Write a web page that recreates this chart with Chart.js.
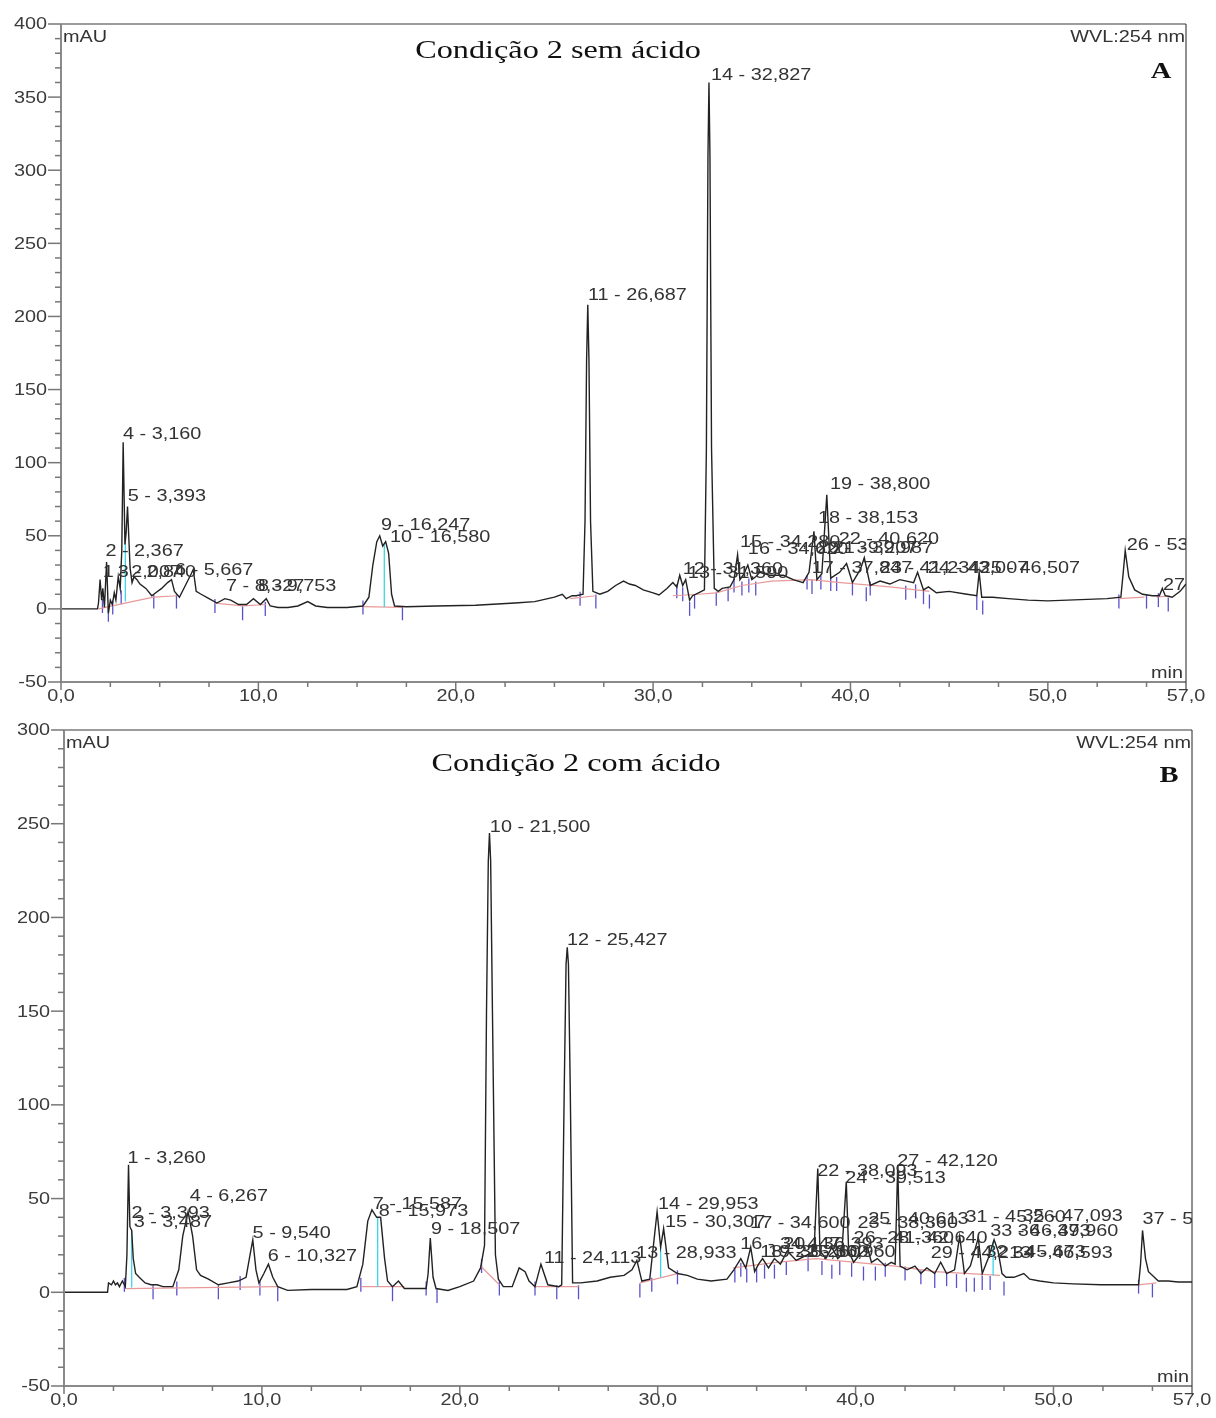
<!DOCTYPE html>
<html>
<head>
<meta charset="utf-8">
<title>Condição 2 - cromatogramas</title>
<script src="https://cdn.jsdelivr.net/npm/chart.js@4.4.1/dist/chart.umd.min.js"></script>
<style>
  html, body { margin: 0; padding: 0; background: #fff; }
  body { width: 1216px; height: 1418px; position: relative; overflow: hidden; }
  canvas { position: absolute; left: 0; }
  #chartA { top: 0; }
  #chartB { top: 712px; }
</style>
</head>
<body>
<canvas id="chartA" width="1216" height="712"></canvas>
<canvas id="chartB" width="1216" height="706"></canvas>
<script>
/* ---------- shared axis data ---------- */
const xTicks = [0, 10, 20, 30, 40, 50, 57];
const xTickLabels = ["0,0", "10,0", "20,0", "30,0", "40,0", "50,0", "57,0"];
const yTicksA = [-50, 0, 50, 100, 150, 200, 250, 300, 350, 400];
const yTicksB = [-50, 0, 50, 100, 150, 200, 250, 300];

/* ---------- A: Condição 2 sem ácido ---------- */
const timeA = [0, 1.85, 1.9, 1.98, 2.06, 2.12, 2.2, 2.31, 2.4, 2.5,
  2.6, 2.7, 2.78, 2.9, 3.0, 3.08, 3.15, 3.24, 3.3, 3.37,
  3.5, 3.6, 3.7, 3.85, 4.0, 4.3, 4.6, 4.8, 5.1, 5.4,
  5.6, 5.75, 6.0, 6.3, 6.6, 6.7, 6.85, 7.1, 7.5, 7.9,
  8.3, 8.6, 9.0, 9.4, 9.75, 10.1, 10.4, 10.6, 11.0, 11.5,
  12.0, 12.5, 12.9, 13.5, 14.5, 15.3, 15.6, 15.8, 16.0, 16.15,
  16.3, 16.45, 16.6, 16.75, 16.9, 17.5, 19, 21, 23, 24,
  25, 25.4, 25.6, 25.9, 26.1, 26.45, 26.55, 26.63, 26.69, 26.75,
  26.83, 26.95, 27.3, 27.7, 28.1, 28.5, 28.8, 29.1, 29.5, 30.0,
  30.3, 30.7, 31.0, 31.2, 31.35, 31.5, 31.65, 31.85, 32.0, 32.3,
  32.6, 32.7, 32.78, 32.83, 32.88, 32.96, 33.1, 33.3, 33.5, 33.9,
  34.1, 34.28, 34.4, 34.6, 34.8, 35.0, 35.2, 35.4, 35.9, 36.6,
  37.1, 37.6, 37.9, 38.15, 38.3, 38.55, 38.8, 39.0, 39.45, 39.8,
  40.1, 40.5, 40.7, 41.0, 41.5, 42.0, 42.5, 43.2, 43.4, 43.7,
  43.95, 44.35, 45.0, 45.9, 46.4, 46.52, 46.65, 47.2, 48, 49,
  50, 51, 52, 53, 53.7, 53.82, 53.92, 54.1, 54.4, 54.8,
  55.3, 55.65, 55.8, 55.95, 56.3, 56.7, 57];
const signalA = [0, 0, 4, 20, 6, 14, 1, 32, -3, 6,
  3, 11, 6, 22, 14, 40, 114, 44, 52, 70,
  28, 18, 22, 20, 17, 14, 9, 11, 14, 18,
  20, 12, 8, 16, 24, 27, 12, 10, 7, 4,
  7, 6, 3, 3, 7, 3, 7, 2, 1, 1,
  2, 5, 2, 1, 1, 2, 8, 30, 46, 50,
  43, 46, 38, 10, 2, 1.5, 2, 2.5, 4, 5,
  8, 10, 7, 9, 9, 10, 60, 170, 208, 170,
  60, 12, 10, 12, 16, 19, 17, 16, 13, 11,
  9.5, 14, 18, 15, 23, 16, 20, 6, 9, 11,
  13, 110, 310, 360, 310, 110, 14, 12, 14, 15,
  20, 37, 20, 24, 30, 20, 22, 25, 23, 23,
  20, 18, 25, 53, 20, 24, 78, 21, 25, 31,
  18, 27, 35, 16, 19, 17, 20, 18, 25, 13,
  15, 11, 12, 10, 9, 25, 8, 8, 7, 6,
  5.5, 6, 6.5, 7, 8, 25, 40, 22, 13, 10,
  9, 9, 14, 9, 8, 12, 17];
const baseTimeA = [1.9, 3.6, 4.7, 5.9, 6.0, 7.8, 9.2, 10.4, 10.5, 15.3,
  17.3, 17.4, 25.8, 27.1, 27.2, 31.0, 32.3, 33.2, 34.5, 36.0,
  38.0, 39.5, 42.0, 44.0, 44.1, 53.6, 54.9, 55.0, 55.5, 56.2];
const baseValA = [0, 5, 8, 9, null, 4, 2, 3, null, 1.5,
  1, null, 7, 9, null, 9, 10, 11, 16, 19,
  20, 18, 15, 12, null, 7, 8, null, 8, 9];
const markTimeA = [2.1, 2.4, 2.62, 3.05, 4.7, 5.85, 7.8, 9.2, 10.35, 15.3, 17.3, 26.3, 27.1, 31.2, 31.5, 31.85, 32.1, 33.2, 33.8, 34.1,
  34.5, 34.85, 35.2, 37.8, 38.05, 38.5, 39.0, 39.3, 40.1, 40.8, 41.0, 42.8, 43.3, 43.7, 44.0, 46.4, 46.7, 53.6, 55.0, 55.6, 56.1];
const markValA = [2, -4, 1, 8, 5, 5, 2, -3, 0, 1, -3, 7, 5, 12, 10, 0, 5, 7, 10, 16,
  14, 16, 14, 18, 15, 18, 17, 17, 14, 10, 14, 11, 12, 8, 5, 4, 1, 5, 5, 6, 3];
const dropTimeA = [3.26, 16.38];
const dropLowA = [5, 1.3];
const dropHighA = [45, 44];
const peakTextA = ["4 - 3,160", "5 - 3,393", "2 - 2,367", "1 - 2,007", "3 - 2,840", "6 - 5,667", "7 - 8,327", "8 - 9,753",
  "9 - 16,247", "10 - 16,580", "11 - 26,687", "12 - 31,360", "13 - 31,590", "14 - 32,827", "15 - 34,280", "16 - 34,620",
  "17 - 37,847", "18 - 38,153", "19 - 38,800", "20 - 39,207", "21 - 39,987", "22 - 40,620", "23 - 41,234", "24 - 43,007",
  "25 - 46,507", "26 - 53,933", "27 - 55,813"];
const peakTimeA = [3.14, 3.38, 2.25, 2.11, 2.88, 5.78, 8.36, 9.98,
  16.21, 16.67, 26.7, 31.5, 31.76, 32.93, 34.4, 34.8,
  38.04, 38.35, 38.96, 38.3, 39.1, 39.4, 41.49, 43.92,
  46.55, 54.0, 55.83];
const peakValA = [116, 74, 36, 22, 22, 23, 12, 12,
  54, 46, 211, 24, 21, 362, 42, 37.5,
  24.5, 59, 82, 38.5, 38, 44.5, 24.5, 24.5,
  24.5, 40, 13];

/* ---------- B: Condição 2 com ácido ---------- */
const timeB = [0, 2.2, 2.25, 2.4, 2.5, 2.6, 2.7, 2.8, 2.95, 3.1,
  3.18, 3.26, 3.33, 3.42, 3.5, 3.62, 3.8, 4.1, 4.4, 4.7,
  5.0, 5.5, 5.8, 6.0, 6.27, 6.5, 6.7, 6.9, 7.3, 7.8,
  8.3, 8.8, 9.2, 9.4, 9.54, 9.7, 9.85, 10.1, 10.33, 10.55,
  10.8, 11.3, 12.5, 13.5, 14.3, 14.8, 15.1, 15.35, 15.56, 15.8,
  16.0, 16.2, 16.35, 16.6, 16.9, 17.2, 17.8, 18.3, 18.4, 18.51,
  18.65, 18.8, 19.4, 20.0, 20.7, 21.05, 21.25, 21.35, 21.44, 21.5,
  21.56, 21.65, 21.8, 21.95, 22.2, 22.65, 23.0, 23.3, 23.5, 23.8,
  24.1, 24.45, 25.0, 25.15, 25.28, 25.37, 25.43, 25.49, 25.58, 25.7,
  26.1, 26.94, 27.6, 28.3, 28.7, 28.95, 29.2, 29.6, 29.97, 30.15,
  30.3, 30.55, 31.0, 31.5, 32.0, 32.7, 33.5, 33.85, 34.2, 34.45,
  34.7, 34.9, 35.1, 35.3, 35.6, 35.9, 36.2, 36.55, 37.0, 37.56,
  37.9, 38.09, 38.2, 38.5, 38.8, 39.1, 39.3, 39.53, 39.65, 39.9,
  40.2, 40.6, 40.8, 41.1, 41.5, 41.8, 42.0, 42.13, 42.25, 42.6,
  43.0, 43.3, 43.6, 44.0, 44.3, 44.6, 45.0, 45.26, 45.5, 45.8,
  46.2, 46.4, 46.7, 47.0, 47.2, 47.4, 47.6, 48.0, 48.5, 48.8,
  49.3, 50.0, 51.0, 52.4, 53.5, 54.3, 54.4, 54.5, 54.65, 54.8,
  55.3, 55.8, 56.3, 57];
const signalB = [0, 0, 5, 4, 6, 4, 5, 3, 6, 3,
  20, 68, 35, 33, 18, 10, 8, 5, 4, 4,
  3, 3, 12, 30, 43, 30, 12, 9, 7, 4,
  5, 6, 8, 20, 28, 12, 5, 10, 15, 8,
  3, 1, 1.5, 1.5, 1.5, 3, 15, 38, 44, 40,
  40, 18, 6, 3, 6, 2, 2, 2, 10, 29,
  8, 2, 1, 3, 6, 13, 25, 150, 230, 245,
  230, 150, 20, 7, 3, 3, 13, 11, 6, 3,
  15, 4, 3, 4, 110, 175, 184, 175, 110, 5,
  5, 6, 8, 9, 12, 17, 6, 7, 43, 24,
  34, 13, 10, 9, 7, 6, 7, 12, 18, 13,
  24, 11, 15, 18, 13, 18, 15, 22, 17, 20,
  22, 66, 22, 18, 24, 18, 20, 59, 22, 16,
  20, 24, 16, 18, 14, 16, 15, 68, 14, 12,
  14, 10, 13, 10, 16, 10, 12, 30, 10, 14,
  29, 10, 18, 28, 22, 10, 8, 8, 10, 7,
  6, 5, 4.5, 4, 4, 4, 15, 33, 18, 11,
  6, 6, 5.5, 5.5];
const baseTimeB = [3.1, 10.8, 10.9, 15.0, 17.2, 17.3, 21.05, 22.0, 22.1, 23.8,
  26.0, 26.1, 29.1, 31.0, 31.1, 33.8, 36.0, 38.0, 40.0, 42.0,
  44.0, 47.3, 47.4, 54.3, 55.2];
const baseValB = [2, 3, null, 3, 3, null, 14, 4, null, 3,
  3, null, 5, 10, null, 13, 16, 18, 16, 14,
  11, 9, null, 4, 5];
const markTimeB = [3.05, 4.5, 5.7, 7.8, 8.9, 9.9, 10.8, 15.0, 16.6, 18.3, 18.85, 21.1, 22.0, 23.8, 24.9, 26.0, 29.1, 29.7, 31.0, 33.9,
  34.2, 34.5, 35.0, 35.4, 35.9, 36.5, 37.6, 38.3, 38.8, 39.2, 39.8, 40.4, 41.0, 41.5, 42.5, 43.3, 44.0, 44.6, 45.1, 45.6,
  46.0, 46.4, 46.8, 47.5, 54.3, 55.0];
const markValB = [4, 0, 2, 0, 5, 2, -1, 4, -1, 2, -2, 14, 2, 2, 0, 0, 1, 4, 8, 9,
  12, 9, 9, 11, 11, 13, 15, 13, 11, 13, 12, 10, 10, 12, 10, 8, 6, 7, 6, 4,
  4, 5, 5, 2, 3, 1];
const dropTimeB = [3.42, 15.85, 30.15, 46.95];
const dropLowB = [2.5, 3, 8, 9];
const dropHighB = [33, 40, 24, 27];
const peakTextB = ["1 - 3,260", "2 - 3,393", "3 - 3,487", "4 - 6,267", "5 - 9,540", "6 - 10,327", "7 - 15,587", "8 - 15,973",
  "9 - 18,507", "10 - 21,500", "11 - 24,113", "12 - 25,427", "13 - 28,933", "14 - 29,953", "15 - 30,307", "16 - 34,447",
  "17 - 34,600", "18 - 35,260", "19 - 35,600", "20 - 36,393", "21 - 36,960", "22 - 38,093", "23 - 38,360", "24 - 39,513",
  "25 - 40,613", "26 - 41,360", "27 - 42,120", "28 - 42,640", "29 - 44,213", "31 - 45,260", "32 - 45,673", "33 - 46,393",
  "34 - 46,593", "35 - 47,093", "36 - 47,960", "37 - 54,527"];
const peakTimeB = [3.21, 3.41, 3.52, 6.35, 9.53, 10.29, 15.6, 15.91,
  18.54, 21.52, 24.25, 25.42, 28.91, 30.02, 30.37, 34.17,
  34.67, 35.18, 35.58, 36.34, 36.95, 38.06, 40.1, 39.48,
  40.64, 39.9, 42.11, 41.6, 43.8, 45.55, 46.56, 46.8,
  47.93, 48.43, 48.2, 54.5];
const peakValB = [69, 39.5, 35, 48.5, 29, 16.5, 44.5, 40.5,
  31, 245.5, 15.5, 185.5, 18.5, 44.5, 35, 23,
  34.5, 19, 19, 23, 19, 62, 34.5, 58.5,
  36.5, 26.5, 67.5, 26.5, 18.5, 37.5, 19, 30,
  18.5, 38, 30, 36.5];

/* ---------- helpers ---------- */
const STRETCH = 1.24;
const SANS = "'Liberation Sans', Arial, sans-serif";
const SERIF = "'Liberation Serif', 'Times New Roman', serif";

function pairs(xs, ys) {
  return xs.map((x, i) => ({ x: x, y: ys[i] }));
}

function drops(ts, lo, hi) {
  const out = [];
  ts.forEach((t, i) => {
    out.push({ x: t, y: lo[i] }, { x: t, y: hi[i] }, { x: t, y: null });
  });
  return out;
}

function wideText(ctx, text, x, y, align) {
  ctx.save();
  ctx.translate(x, y);
  ctx.scale(STRETCH, 1);
  ctx.textAlign = align || "left";
  ctx.fillText(text, 0, 0);
  ctx.restore();
}

function seg(ctx, x1, y1, x2, y2) {
  ctx.beginPath();
  ctx.moveTo(x1, y1);
  ctx.lineTo(x2, y2);
  ctx.stroke();
}

// axes, ticks and every text of the panel, drawn from the chart's scales
function chromPlugin(cfg) {
  return {
    id: "chrom" + cfg.letter,
    afterDraw(chart) {
      const { ctx, chartArea: a, scales: { x, y } } = chart;
      ctx.save();

      ctx.strokeStyle = "#9c9c9c";
      ctx.lineWidth = 2;
      seg(ctx, a.left, a.top, a.right, a.top);
      ctx.strokeStyle = "#8a8a8a";
      seg(ctx, a.left, a.top, a.left, a.bottom);
      seg(ctx, a.left - 1, a.bottom, a.right, a.bottom);
      ctx.strokeStyle = "#222";
      ctx.lineWidth = 1;
      seg(ctx, a.right, a.top, a.right, a.bottom + 8);

      ctx.strokeStyle = "#777";
      ctx.lineWidth = 1.5;
      for (let v = cfg.yMin; v <= cfg.yMax; v += 10) {
        const py = y.getPixelForValue(v);
        seg(ctx, a.left - (v % 50 === 0 ? 13 : 6), py, a.left, py);
      }
      for (let t = 0; t < 57; t += 2.5) {
        const px = x.getPixelForValue(t);
        seg(ctx, px, a.bottom, px, a.bottom + (t % 10 === 0 ? 8 : 5));
      }

      ctx.fillStyle = "#3c3c3c";
      ctx.font = "16px " + SANS;
      ctx.textBaseline = "middle";
      cfg.yTicks.forEach(v => wideText(ctx, String(v), a.left - 14, y.getPixelForValue(v) + 1, "right"));
      ctx.textBaseline = "top";
      xTicks.forEach((t, i) => wideText(ctx, xTickLabels[i], x.getPixelForValue(t), a.bottom + 7, "center"));

      ctx.fillStyle = "#333";
      ctx.textBaseline = "alphabetic";
      wideText(ctx, "mAU", a.left + 2, a.top + 18, "left");
      wideText(ctx, "WVL:254 nm", a.right - 1, a.top + 18, "right");
      wideText(ctx, "min", a.right - 3, a.bottom - 4, "right");

      ctx.fillStyle = "#111";
      ctx.font = "26px " + SERIF;
      wideText(ctx, cfg.title, cfg.titleX, cfg.titleY, "center");
      ctx.font = "bold 23px " + SERIF;
      wideText(ctx, cfg.letter, cfg.letterX, cfg.letterY, "center");

      // peak labels, clipped to the plot frame like the original
      ctx.beginPath();
      ctx.rect(a.left, a.top, a.right - a.left, a.bottom - a.top);
      ctx.clip();
      ctx.fillStyle = "#333";
      ctx.font = "16px " + SANS;
      cfg.peakText.forEach((txt, i) => {
        wideText(ctx, txt, x.getPixelForValue(cfg.peakTime[i]), y.getPixelForValue(cfg.peakVal[i]), "left");
      });
      ctx.restore();
    }
  };
}

function makeChart(id, cfg) {
  return new Chart(document.getElementById(id), {
    type: "line",
    data: {
      datasets: [
        { data: pairs(cfg.time, cfg.signal), borderColor: "#222", borderWidth: 1.4, pointRadius: 0, tension: 0 },
        { data: drops(cfg.dropTime, cfg.dropLow, cfg.dropHigh), borderColor: "#3ad6e8", borderWidth: 1.3, pointRadius: 0, spanGaps: false },
        { data: pairs(cfg.baseTime, cfg.baseVal), borderColor: "#e89a9a", borderWidth: 1.2, pointRadius: 0, spanGaps: false },
        {
          type: "scatter", data: pairs(cfg.markTime, cfg.markVal), showLine: false,
          pointStyle: "line", pointRotation: 90, pointRadius: 7,
          pointBorderColor: "#5a52cc", pointBorderWidth: 1.3
        }
      ]
    },
    options: {
      responsive: false,
      animation: false,
      layout: { padding: cfg.pad },
      plugins: { legend: { display: false }, tooltip: { enabled: false } },
      scales: {
        x: { type: "linear", min: 0, max: 57, display: false },
        y: { type: "linear", min: cfg.yMin, max: cfg.yMax, display: false }
      }
    },
    plugins: [chromPlugin(cfg)]
  });
}

makeChart("chartA", {
  letter: "A", title: "Condição 2 sem ácido", titleX: 558, titleY: 58, letterX: 1161, letterY: 78,
  yMin: -50, yMax: 400, yTicks: yTicksA,
  pad: { left: 61, top: 24, right: 30, bottom: 30 },
  time: timeA, signal: signalA, baseTime: baseTimeA, baseVal: baseValA,
  markTime: markTimeA, markVal: markValA, dropTime: dropTimeA, dropLow: dropLowA, dropHigh: dropHighA,
  peakText: peakTextA, peakTime: peakTimeA, peakVal: peakValA
});

makeChart("chartB", {
  letter: "B", title: "Condição 2 com ácido", titleX: 576, titleY: 59, letterX: 1169, letterY: 70,
  yMin: -50, yMax: 300, yTicks: yTicksB,
  pad: { left: 64, top: 18, right: 24, bottom: 32 },
  time: timeB, signal: signalB, baseTime: baseTimeB, baseVal: baseValB,
  markTime: markTimeB, markVal: markValB, dropTime: dropTimeB, dropLow: dropLowB, dropHigh: dropHighB,
  peakText: peakTextB, peakTime: peakTimeB, peakVal: peakValB
});
</script>
</body>
</html>
